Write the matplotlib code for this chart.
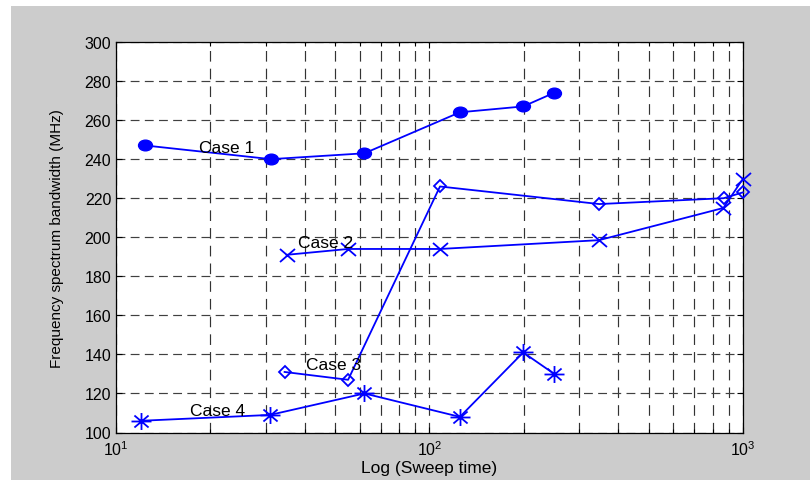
import matplotlib
matplotlib.use('Agg')
import matplotlib.pyplot as plt
import numpy as np
from matplotlib.path import Path
from matplotlib.patches import Rectangle

plt.rcParams['font.family'] = ['Liberation Sans', 'DejaVu Sans']
plt.rcParams['mathtext.fontset'] = 'custom'
plt.rcParams['mathtext.rm'] = 'Liberation Sans'

# sweep time / bandwidth
case1_x = [12.4, 31.2, 62, 125, 199, 250]
case1_y = [247, 240, 243, 264, 267, 274]
case2_x = [35, 55, 108, 347, 866, 1000]
case2_y = [191, 194, 194, 198.5, 215, 230]
case3_x = [34.5, 55, 108, 348, 868, 1000]
case3_y = [131, 127, 226, 217, 220, 223]
case4_x = [12, 31, 62, 125, 199, 250]
case4_y = [106, 109, 120, 108, 141, 130]

labels = ['Case 1', 'Case 2', 'Case 3', 'Case 4']
label_x = [18.4, 38.1, 40.5, 17.2]
label_y = [243.5, 194.8, 132.5, 109]

blue = (0, 0, 1)


def wide(path, sx):
    return Path(path.vertices * np.array([sx, 1.0]), path.codes)


circ = wide(Path.unit_circle(), 1.3)
xmark = wide(Path([[-1, -1], [1, 1], [-1, 1], [1, -1]],
                  [Path.MOVETO, Path.LINETO, Path.MOVETO, Path.LINETO]), 1.15)
ang = np.deg2rad([0, 45, 90, 135])
av, ac = [], []
for a in ang:
    av += [[np.cos(a), np.sin(a)], [-np.cos(a), -np.sin(a)]]
    ac += [Path.MOVETO, Path.LINETO]
star = wide(Path(av, ac), 1.18)

fig = plt.figure(figsize=(8.1, 4.81), dpi=100)
fig.patch.set_facecolor('white')
fig.add_artist(Rectangle((11 / 810, 0), 1, (481 - 7) / 481, transform=fig.transFigure,
                         facecolor='#cccccc', edgecolor='none', zorder=-10))

ax = fig.add_axes([116 / 810, 1 - 433.5 / 481, 627 / 810, 390.5 / 481])
ax.set_xscale('log')

lw = 1.3
ax.plot(case1_x, case1_y, color=blue, lw=lw, marker=circ, ms=10, mfc=blue, mec=blue, clip_on=False, zorder=3)
ax.plot(case2_x, case2_y, color=blue, lw=lw, marker=xmark, ms=10.8, mfc='none', mec=blue, mew=1.3, clip_on=False, zorder=3)
ax.plot(case3_x, case3_y, color=blue, lw=lw, marker='D', ms=5.7, mfc='none', mec=blue, mew=1.3, clip_on=False, zorder=3)
ax.plot(case4_x, case4_y, color=blue, lw=lw, marker=star, ms=14.4, mfc='none', mec=blue, mew=1.3, clip_on=False, zorder=3)

for t, tx, ty in zip(labels, label_x, label_y):
    ax.text(tx, ty, t, fontsize=12.5, ha='left', va='baseline', color='black', zorder=4)

ax.set_xlim(10, 1000)
ax.set_ylim(100, 300)
ax.set_yticks(np.arange(100, 301, 20))

ax.grid(True, which='major', axis='y', color='0.25', lw=0.85, ls=(0, (7.5, 4.5)))
ax.grid(True, which='both', axis='x', color='0.2', lw=0.85, ls=(0, (9, 6)))
ax.set_axisbelow(True)

ax.tick_params(which='both', direction='in', top=True, right=True, labelsize=11.5, width=0.8)
ax.tick_params(which='major', length=4.5)
ax.tick_params(which='minor', length=3)
ax.tick_params(axis='y', pad=3.5)
ax.tick_params(axis='x', pad=5)
for s in ax.spines.values():
    s.set_linewidth(0.9)

ax.set_xlabel('Log (Sweep time)', fontsize=12.5)
ax.set_ylabel('Frequency spectrum bandwidth (MHz)', fontsize=11)
ax.xaxis.set_label_coords(0.5, -0.070)
ax.yaxis.set_label_coords(-0.083, 0.5)

plt.savefig('out.png', dpi=100)
